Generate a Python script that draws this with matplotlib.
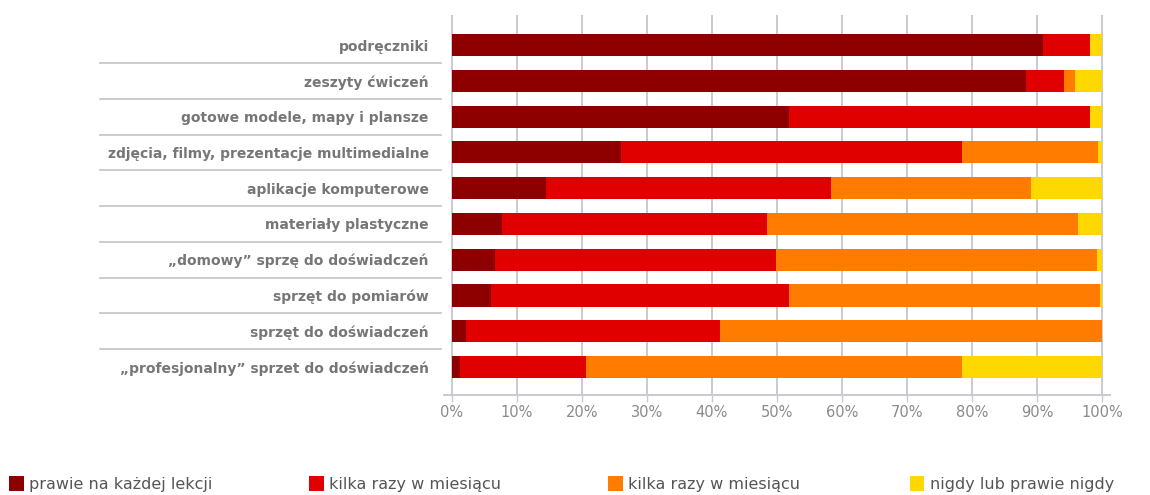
import numpy as np
import matplotlib.pyplot as plt
from matplotlib.patches import Patch

categories = [
    "podręczniki",
    "zeszyty ćwiczeń",
    "gotowe modele, mapy i plansze",
    "zdjęcia, filmy, prezentacje multimedialne",
    "aplikacje komputerowe",
    "materiały plastyczne",
    "„domowy” sprzę do doświadczeń",
    "sprzęt do pomiarów",
    "sprzęt do doświadczeń",
    "„profesjonalny” sprzet do doświadczeń",
]
series_names = [
    "prawie na każdej lekcji",
    "kilka razy w miesiącu",
    "kilka razy w miesiącu",
    "nigdy lub prawie nigdy",
]
colors = ["#8e0000", "#e00000", "#ff7c00", "#ffd800"]

# percentages per series
every_lesson = [90.9, 88.3, 51.8, 26.0, 14.5, 7.7, 6.6, 6.0, 2.2, 1.2]
few_times_a = [7.3, 5.9, 46.4, 52.5, 43.8, 40.8, 43.2, 45.8, 39.0, 19.4]
few_times_b = [0.0, 1.6, 0.0, 20.9, 30.8, 47.8, 49.4, 47.9, 58.8, 57.9]
never = [1.8, 4.2, 1.8, 0.6, 10.9, 3.7, 0.8, 0.3, 0.0, 21.5]

ticks = list(range(0, 101, 10))
tick_labels = [f"{t}%" for t in ticks]

fig = plt.figure(figsize=(11.5, 4.95), dpi=100)
ax = fig.add_axes([444 / 1150, 100 / 495, 666 / 1150, 380 / 495])

y = np.arange(len(categories))
left = np.zeros(len(categories))
handles = []
for vals, col in zip([every_lesson, few_times_a, few_times_b, never], colors):
    vals = np.array(vals)
    ax.barh(y, vals, left=left, height=0.62, color=col, zorder=3)
    left += vals
    handles.append(Patch(facecolor=col, edgecolor="none"))

ax.set_xlim(-1.2, 101.2)
ax.set_ylim(len(categories) - 1 + 0.78, -0.84)

# vertical grid
for t in ticks:
    ax.axvline(t, color="#c9c9d2", lw=1.4, zorder=1)

ax.set_xticks(ticks)
ax.set_xticklabels(tick_labels, color="#8a8a8a", fontsize=10.5)
ax.tick_params(axis="x", length=5, width=1, color="#c9c9d2", pad=2)
ax.set_yticks(y)
ax.set_yticklabels(categories, color="#767676", fontsize=10, fontweight="semibold")
ax.tick_params(axis="y", length=0, pad=11)

for s in ["top", "right", "left"]:
    ax.spines[s].set_visible(False)
ax.spines["bottom"].set_color("#c9c9d2")
ax.spines["bottom"].set_linewidth(1.4)

# row separators in the label area
trans = ax.get_yaxis_transform()
for k in range(len(categories) - 1):
    ax.plot([-0.517, -0.005], [k + 0.5, k + 0.5], transform=trans,
            color="#c4c4c4", lw=1.2, clip_on=False)

# legend entries spread across the bottom
xs = [0.008, 0.269, 0.529, 0.791]
for h, name, xpos in zip(handles, series_names, xs):
    fig.legend([h], [name], loc="center left", bbox_to_anchor=(xpos, 0.022),
               frameon=False, fontsize=11.5, handlelength=0.9, handleheight=1.0,
               handletextpad=0.35, borderaxespad=0, borderpad=0,
               labelcolor="#555555")

fig.savefig("out.png", dpi=100)
